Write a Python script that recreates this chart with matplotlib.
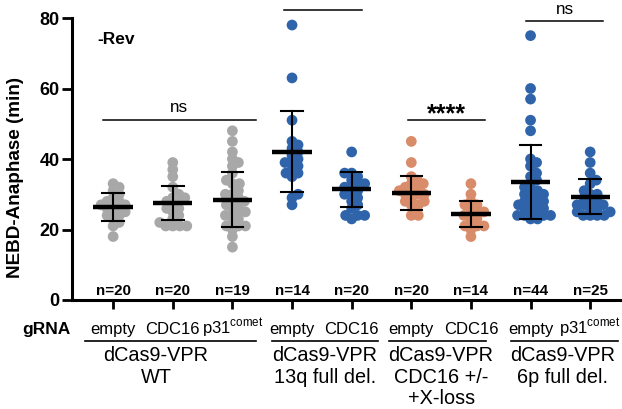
import matplotlib
matplotlib.use("Agg")
import matplotlib.pyplot as plt
import numpy as np

plt.rcParams['font.family'] = ['Liberation Sans', 'DejaVu Sans']
plt.rcParams['mathtext.fontset'] = 'custom'
plt.rcParams['mathtext.rm'] = 'Liberation Sans'

# ---- data ----
guides = ["empty", "CDC16", r"p31$^{\mathrm{comet}}$",
          "empty", "CDC16",
          "empty", "CDC16",
          "empty", r"p31$^{\mathrm{comet}}$"]
n_labels = ["n=20", "n=20", "n=19", "n=14", "n=20", "n=20", "n=14", "n=44", "n=25"]
group_names = [["dCas9-VPR", "WT"],
               ["dCas9-VPR", "13q full del."],
               ["dCas9-VPR", "CDC16 +/-", "+X-loss"],
               ["dCas9-VPR", "6p full del."]]

wt_empty = [18, 21, 22, 23, 24, 24, 25, 25, 26, 26, 27, 27, 27, 28, 28, 29, 30, 31, 32, 33]
wt_cdc16 = [21, 21, 21, 21, 22, 23, 24, 25, 26, 26, 27, 28, 28, 29, 29, 30, 32, 35, 37, 39]
wt_p31 = [15, 18, 20, 21, 21, 21, 22, 23, 24, 24, 25, 25, 26, 27, 27, 28, 28, 29, 30, 30,
          31, 33, 33, 34, 36, 38, 39, 40, 42, 45, 48]
del13q_empty = [78, 63, 51, 45, 44, 43, 42, 41, 40, 39, 39, 38, 37, 36, 36, 35, 30, 29, 27]
del13q_cdc16 = [42, 36, 36, 35, 34, 33, 33, 32, 32, 31, 30, 30, 29, 28, 27, 26, 24, 24, 24, 23]
cdc_empty = [45, 39, 35, 34, 33, 33, 32, 32, 31, 31, 30, 30, 30, 29, 28, 28, 27, 27, 24, 24]
cdc_cdc16 = [33, 30, 28, 27, 27, 26, 25, 25, 24, 24, 23, 22, 21, 21, 21, 20, 18]
del6p_empty = [75, 60, 57, 51, 48, 40, 39, 38, 36, 35, 34, 33, 32, 31, 31, 30, 30, 29, 29,
               28, 28, 27, 27, 27, 26, 26, 25, 25, 24, 24, 24, 24, 23, 23]
del6p_p31 = [42, 39, 36, 34, 33, 31, 30, 30, 29, 28, 28, 27, 27, 27, 26, 26, 25, 25,
             24, 24, 24, 24]

series = [wt_empty, wt_cdc16, wt_p31, del13q_empty, del13q_cdc16,
          cdc_empty, cdc_cdc16, del6p_empty, del6p_p31]
means = [26.4, 27.4, 28.5, 42.0, 31.4, 30.4, 24.4, 33.5, 29.3]
sds = [3.9, 4.8, 7.9, 11.5, 5.0, 4.75, 3.65, 10.6, 4.95]

gray = "#a8a8a8"
blue = "#2f64ab"
salmon = "#d98c69"
colors = [gray, gray, gray, blue, blue, salmon, salmon, blue, blue]

# ---- figure ----
W, H = 622, 409
fig = plt.figure(figsize=(W / 100, H / 100), dpi=100)
ax = fig.add_axes([72 / W, 109 / H, 548 / W, 282 / H])
ax.set_xlim(0.31, 9.5)
ax.set_ylim(0, 80)

px_x = 548 / (9.5 - 0.31)
px_y = 282 / 80.0


def swarm(vals, dmin=6.8):
    vals = np.asarray(vals, float)
    order = np.argsort(vals)
    xs = np.zeros(len(vals))
    placed = []
    for i in order:
        y = vals[i] * px_y
        for k in range(400):
            off = (k + 1) // 2 * 0.5 * (1 if k % 2 else -1)
            if all((off - px) ** 2 + (y - py) ** 2 >= dmin ** 2 for px, py in placed):
                break
        placed.append((off, y))
        xs[i] = off / px_x
    return xs


positions = np.arange(1, len(series) + 1)
for pos, vals, col, m, s in zip(positions, series, colors, means, sds):
    ax.scatter(pos + swarm(vals), vals, s=60, color=col, edgecolors='none', zorder=2)
    ax.plot([pos - 0.33, pos + 0.33], [m, m], color='black', lw=3.2, zorder=3,
            solid_capstyle='butt')
    ax.plot([pos, pos], [m - s, m + s], color='black', lw=1.5, zorder=3)
    for yy in (m - s, m + s):
        ax.plot([pos - 0.18, pos + 0.18], [yy, yy], color='black', lw=1.5, zorder=3)

for pos, lab in zip(positions, n_labels):
    ax.text(pos, 1.4, lab, ha='center', va='baseline', fontsize=10.9,
            fontweight='bold')

# significance bars
sig_x0 = [0.83, 3.87, 5.94, 7.92]
sig_x1 = [3.39, 5.18, 7.23, 9.22]
sig_y = [51.2, 82.2, 51.2, 79.2]
sig_txt = ["ns", "", "****", "ns"]
for x0, x1, yy, t in zip(sig_x0, sig_x1, sig_y, sig_txt):
    ax.plot([x0, x1], [yy, yy], color='black', lw=1.1, clip_on=False)
    if t == "ns":
        ax.text((x0 + x1) / 2, yy + 2.0, t, ha='center', va='baseline', fontsize=12.3)
    elif t:
        ax.text((x0 + x1) / 2, yy - 0.6, t, ha='center', va='baseline', fontsize=18,
                fontweight='bold')

ax.text(0.73, 72.5, "-Rev", fontsize=12.5, fontweight='bold', va='baseline')

# axes style
for sp in ['top', 'right']:
    ax.spines[sp].set_visible(False)
for sp in ['left', 'bottom']:
    ax.spines[sp].set_linewidth(2.2)
ax.set_yticks([0, 20, 40, 60, 80])
ax.tick_params(axis='y', length=7, width=2, labelsize=13, pad=2)
for t in ax.get_yticklabels():
    t.set_fontweight('bold')
ax.set_xticks(positions)
ax.tick_params(axis='x', length=6.5, width=2, labelbottom=False)
ax.set_ylabel("NEBD-Anaphase (min)", fontsize=13.6, fontweight='bold')
ax.yaxis.set_label_coords(-0.0876, 0.436)

# x-axis category labels
xt = ax.get_xaxis_transform()
ax.text(-0.53, -0.1206, "gRNA", transform=xt, ha='left', va='baseline',
        fontsize=12.5, fontweight='bold', clip_on=False)
for pos, g in zip(positions, guides):
    ax.text(pos, -0.1206, g, transform=xt, ha='center', va='baseline',
            fontsize=12, clip_on=False)

grp_x0 = [0.53, 3.67, 5.62, 7.67]
grp_x1 = [3.39, 5.45, 7.25, 9.47]
grp_cx = [1.72, 4.55, 6.5, 8.53]
line_y = [-0.216, -0.2926, -0.369]
for x0, x1, cx, names in zip(grp_x0, grp_x1, grp_cx, group_names):
    ax.plot([x0, x1], [-0.145, -0.145], transform=xt, color='black', lw=1.2,
            clip_on=False)
    for yy, nm in zip(line_y, names):
        ax.text(cx, yy, nm, transform=xt, ha='center', va='baseline',
                fontsize=14.3, clip_on=False)

fig.savefig("out.png", dpi=100)
